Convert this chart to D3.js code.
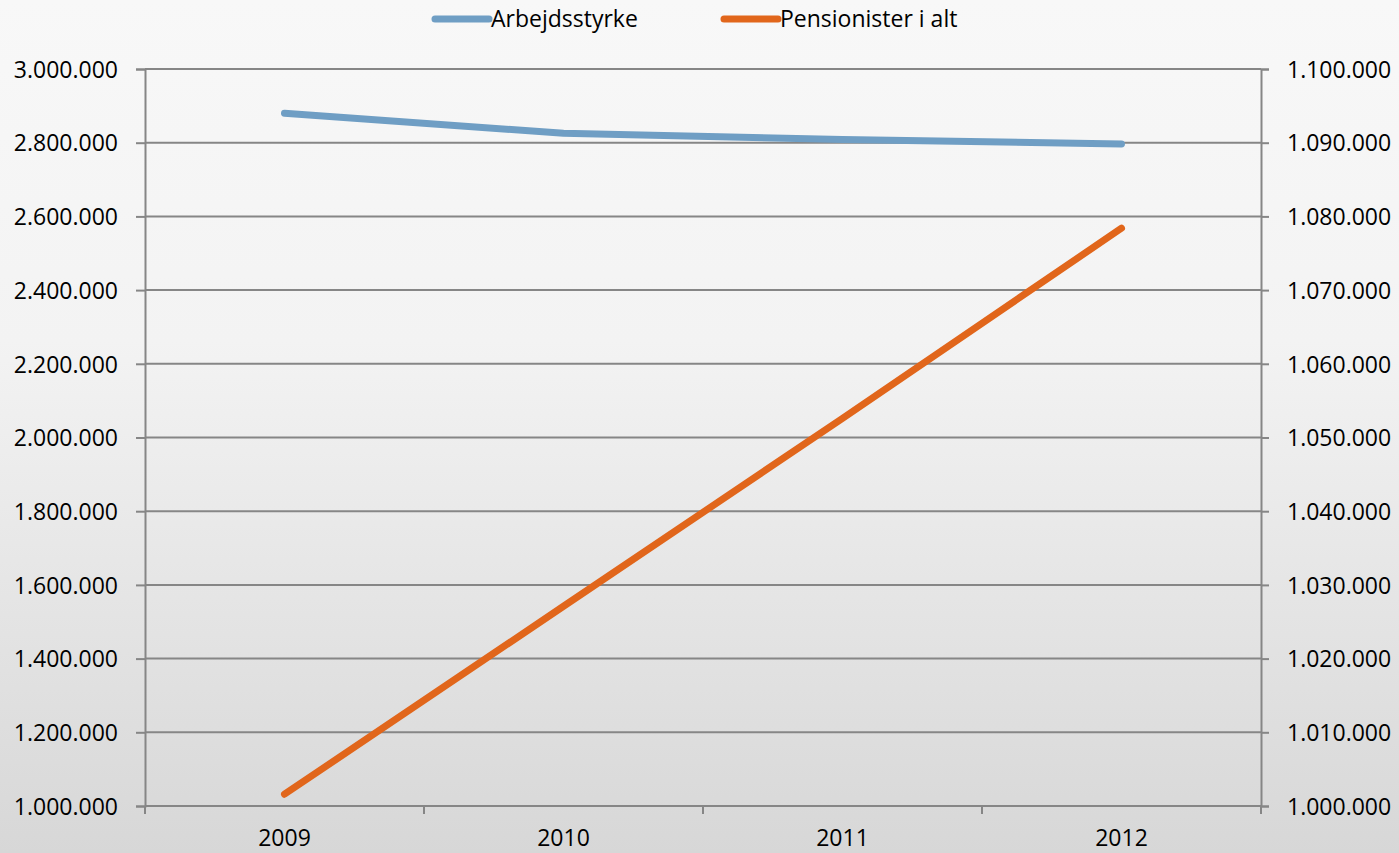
<!DOCTYPE html>
<html>
<head>
<meta charset="utf-8">
<script src="https://cdn.jsdelivr.net/npm/d3@7"></script>
<style>
  html, body { margin: 0; padding: 0; }
  body { width: 1399px; height: 853px; overflow: hidden; }
  svg text { font-family: "Open Sans", sans-serif; font-size: 23px; fill: #000; }
</style>
</head>
<body>
<svg id="chart" width="1399" height="853"></svg>
<script>
const years = ["2009", "2010", "2011", "2012"];
const arbejdsstyrke = [2880000, 2825500, 2809000, 2796500];
const pensionister = [1001600, 1027100, 1052600, 1078400];
const leftTicks = [1000000, 1200000, 1400000, 1600000, 1800000, 2000000, 2200000, 2400000, 2600000, 2800000, 3000000];
const rightTicks = [1000000, 1010000, 1020000, 1030000, 1040000, 1050000, 1060000, 1070000, 1080000, 1090000, 1100000];
const seriesNames = ["Arbejdsstyrke", "Pensionister i alt"];
const colors = ["#6f9ec4", "#e1661b"];

const W = 1399, H = 853;
const m = { left: 145, right: 1261, top: 69, bottom: 806 };
const svg = d3.select("#chart");

// background gradient
const defs = svg.append("defs");
const grad = defs.append("linearGradient").attr("id", "bg").attr("x1", 0).attr("y1", 0).attr("x2", 0).attr("y2", 1);
grad.append("stop").attr("offset", "0%").attr("stop-color", "#f8f8f8");
grad.append("stop").attr("offset", "40%").attr("stop-color", "#f3f3f3");
grad.append("stop").attr("offset", "100%").attr("stop-color", "#d7d7d7");
svg.append("rect").attr("width", W).attr("height", H).attr("fill", "url(#bg)");

const fmt = v => d3.format(",")(v).replace(/,/g, ".");

const x = d3.scaleBand().domain(years).range([m.left, m.right]).padding(0);
const yL = d3.scaleLinear().domain([1000000, 3000000]).range([m.bottom, m.top]);
const yR = d3.scaleLinear().domain([1000000, 1100000]).range([m.bottom, m.top]);
const cx = d => x(d) + x.bandwidth() / 2;

const axisColor = "#868686";

// gridlines
svg.append("g").selectAll("line").data(leftTicks).join("line")
  .attr("x1", m.left).attr("x2", m.right)
  .attr("y1", d => yL(d)).attr("y2", d => yL(d))
  .attr("stroke", axisColor).attr("stroke-width", 2);

// left axis
const gL = svg.append("g").attr("transform", `translate(${m.left},0)`)
  .call(d3.axisLeft(yL).tickValues(leftTicks).tickFormat(fmt).tickSize(9).tickPadding(18));
gL.select(".domain").attr("stroke", axisColor).attr("stroke-width", 2);
gL.selectAll(".tick line").attr("stroke", axisColor).attr("stroke-width", 2);
gL.selectAll(".tick text").attr("font-family", "Open Sans").attr("font-size", 23).attr("dy", "0.36em").attr("fill", "#000");

// right axis
const gR = svg.append("g").attr("transform", `translate(${m.right},0)`)
  .call(d3.axisRight(yR).tickValues(rightTicks).tickFormat(fmt).tickSize(8).tickPadding(18));
gR.select(".domain").attr("stroke", axisColor).attr("stroke-width", 2);
gR.selectAll(".tick line").attr("stroke", axisColor).attr("stroke-width", 2);
gR.selectAll(".tick text").attr("font-family", "Open Sans").attr("font-size", 23).attr("dy", "0.36em").attr("fill", "#000");

// bottom axis: baseline + ticks at band boundaries
svg.append("line").attr("x1", m.left).attr("x2", m.right).attr("y1", m.bottom).attr("y2", m.bottom)
  .attr("stroke", axisColor).attr("stroke-width", 2);
const bounds = years.map(d => x(d)).concat([x(years[years.length - 1]) + x.bandwidth()]);
svg.append("g").selectAll("line").data(bounds).join("line")
  .attr("x1", d => d).attr("x2", d => d).attr("y1", m.bottom).attr("y2", m.bottom + 8)
  .attr("stroke", axisColor).attr("stroke-width", 2);
svg.append("g").selectAll("text").data(years).join("text")
  .attr("x", d => cx(d)).attr("y", 846).attr("text-anchor", "middle").text(d => d);

// series lines
const lineL = d3.line().x((d, i) => cx(years[i])).y(d => yL(d));
const lineR = d3.line().x((d, i) => cx(years[i])).y(d => yR(d));
svg.append("path").datum(arbejdsstyrke).attr("d", lineL)
  .attr("fill", "none").attr("stroke", colors[0]).attr("stroke-width", 7)
  .attr("stroke-linecap", "round").attr("stroke-linejoin", "round");
svg.append("path").datum(pensionister).attr("d", lineR)
  .attr("fill", "none").attr("stroke", colors[1]).attr("stroke-width", 7)
  .attr("stroke-linecap", "round").attr("stroke-linejoin", "round");

// legend
const legendX = [435, 724];
const lg = svg.append("g").selectAll("g").data(seriesNames).join("g")
  .attr("transform", (d, i) => `translate(${legendX[i]},19)`);
lg.append("line").attr("x1", 0).attr("x2", 54).attr("y1", 0).attr("y2", 0)
  .attr("stroke", (d, i) => colors[i]).attr("stroke-width", 7).attr("stroke-linecap", "round");
lg.append("text").attr("x", 56).attr("y", 8).text(d => d);
</script>
</body>
</html>
